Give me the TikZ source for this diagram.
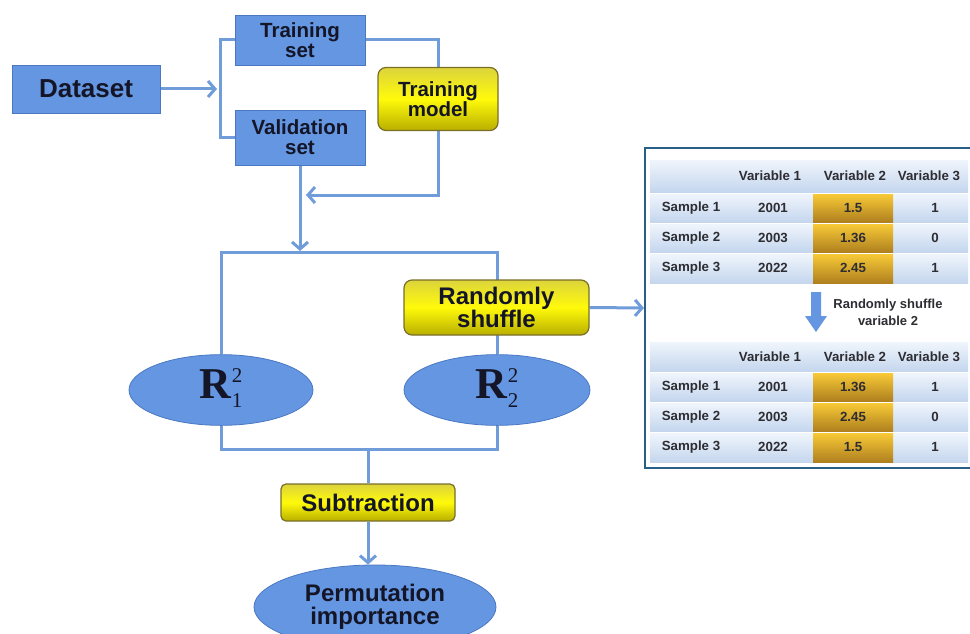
\documentclass[tikz,border=0pt]{standalone}
\usepackage{fontspec}
\setmainfont{Liberation Sans}
\newfontfamily\serifR{Liberation Serif}
\usetikzlibrary{arrows.meta,shapes.geometric,backgrounds,calc}
\definecolor{boxblue}{RGB}{100,150,225}
\definecolor{boxedge}{RGB}{75,120,195}
\definecolor{linec}{RGB}{112,157,218}
\definecolor{txt}{RGB}{20,22,40}
\definecolor{ytop}{RGB}{220,212,60}
\definecolor{ymid}{RGB}{255,250,10}
\definecolor{ybot}{RGB}{185,175,0}
\definecolor{yedge}{RGB}{120,110,40}
\definecolor{tblframe}{RGB}{40,95,135}
\definecolor{rowtop}{RGB}{240,245,252}
\definecolor{rowbot}{RGB}{196,214,238}
\definecolor{goldtop}{RGB}{248,202,55}
\definecolor{goldbot}{RGB}{175,128,30}
\definecolor{tbltxt}{RGB}{45,45,50}
\tikzset{
  bluebox/.style={rectangle, fill=boxblue, draw=boxedge, line width=0.8pt, text=txt, align=center, inner sep=0pt},
  yellowbox/.style={rectangle, rounded corners=8pt, draw=yedge, line width=1.2pt, top color=ytop, bottom color=ybot, middle color=ymid, text=txt, align=center, inner sep=0pt},
  blueell/.style={ellipse, fill=boxblue, draw=boxedge, line width=0.8pt, text=txt, inner sep=0pt, align=center},
  conn/.style={draw=linec, line width=3pt},
  arr/.style={conn, -{Straight Barb[length=7pt,width=16pt]}},
  mainfont/.style={font=\fontsize{#1}{#1}\selectfont\bfseries},
  cell/.style={font=\fontsize{13.3}{14}\selectfont\bfseries, text=tbltxt, inner sep=0pt},
  rowbg/.style={top color=rowtop, bottom color=rowbot, draw=none},
  goldbg/.style={top color=goldtop, bottom color=goldbot, draw=none},
}
\newcommand{\Rsq}[1]{{\serifR\fontsize{44}{44}\selectfont\bfseries R}\kern0.5pt\raisebox{-9pt}{\serifR\fontsize{21}{25}\selectfont\begin{tabular}[b]{@{}l@{}}2\\#1\end{tabular}}}
\begin{document}
\begin{tikzpicture}[x=1pt,y=-1pt]
\useasboundingbox (0,0) rectangle (970,634);
\clip (0,0) rectangle (970,634);

% left flow nodes
\node[bluebox, minimum width=148pt, minimum height=48pt, mainfont=26] (dataset) at (86,89) {Dataset};
\node[bluebox, minimum width=130pt, minimum height=50pt, font=\fontsize{20.5}{20}\selectfont\bfseries] (train) at (300,40) {Training\\set};
\node[bluebox, minimum width=130pt, minimum height=55pt, font=\fontsize{20.5}{20}\selectfont\bfseries] (valid) at (300,137.5) {Validation\\set};
\node[yellowbox, minimum width=120pt, minimum height=63pt, font=\fontsize{20.5}{19}\selectfont\bfseries] (tmodel) at (438,99) {Training\\model};
\node[yellowbox, minimum width=185pt, minimum height=55pt, font=\fontsize{24}{19.5}\selectfont\bfseries] (shuffle) at (496.5,307.5) {Randomly\\shuffle};
\node[blueell, minimum width=184pt, minimum height=66pt] (r1) at (221,390) {\Rsq{1}};
\node[blueell, minimum width=186pt, minimum height=66pt] (r2) at (497,390) {\Rsq{2}};
\node[yellowbox, rounded corners=5pt, minimum width=174pt, minimum height=37pt, mainfont=24] (sub) at (368,502.5) {Subtraction};
\node[blueell, minimum width=242pt, minimum height=84pt, font=\fontsize{24}{23}\selectfont\bfseries] (perm) at (375,607) {Permutation\\importance};

\coordinate (br) at (220,89);
\coordinate (brtip) at (217,89);
\coordinate (j1) at (306,195);
\coordinate (tb) at (300,251);
\coordinate (tbr) at (300,252);
\coordinate (bb) at (368,449);

% table
\node[draw=tblframe, line width=2pt, fill=white, minimum width=330pt, minimum height=320pt, inner sep=0pt] (tbl) at (810,308) {};
\foreach \ya/\yb in {160/192,194/222,224/252,254/283,342/371,373/401,403/431,433/462}{
  \shade[rowbg] (650,\ya) rectangle (968,\yb);
}
\foreach \ya/\yb in {194/222,224/252,254/283,373/401,403/431,433/462}{
  \shade[goldbg] (813,\ya) rectangle (893,\yb);
}
\node[cell] (ha1) at (770,176) {Variable 1};
\node[cell] (ha2) at (855,176) {Variable 2};
\node[cell] (ha3) at (929,176) {Variable 3};
\foreach \yy/\s/\v/\w/\z [count=\i] in {208/Sample 1/2001/1.5/1, 238/Sample 2/2003/1.36/0, 268/Sample 3/2022/2.45/1}{
  \node[cell] (a\i s) at (691,\yy) {\s};
  \node[cell] (a\i v) at (773,\yy) {\v};
  \node[cell] (a\i w) at (853,\yy) {\w};
  \node[cell] (a\i z) at (935,\yy) {\z};
}
\node[cell] (hb1) at (770,357) {Variable 1};
\node[cell] (hb2) at (855,357) {Variable 2};
\node[cell] (hb3) at (929,357) {Variable 3};
\foreach \yy/\s/\v/\w/\z [count=\i] in {387/Sample 1/2001/1.36/1, 417/Sample 2/2003/2.45/0, 447/Sample 3/2022/1.5/1}{
  \node[cell] (b\i s) at (691,\yy) {\s};
  \node[cell] (b\i v) at (773,\yy) {\v};
  \node[cell] (b\i w) at (853,\yy) {\w};
  \node[cell] (b\i z) at (935,\yy) {\z};
}
\fill[boxblue] (811,292) -- (821,292) -- (821,316) -- (827,316) -- (816,332) -- (805,316) -- (811,316) -- cycle;
\node[cell, align=center, font=\fontsize{13}{17}\selectfont\bfseries] (shtxt) at (888,312) {Randomly shuffle\\variable 2};

% connectors
\begin{pgfonlayer}{background}
\draw[arr] (dataset.east) -- (brtip);
\draw[conn] (train.west) -| (br) |- (valid.west);
\draw[conn] (train.east) -| (tmodel.north);
\draw[arr] (tmodel.south) |- (j1);
\draw[arr] (valid.south) -- (tb);
\draw[conn] (r1.north) |- (tbr) -| (r2.north);
\draw[conn] (r1.south) |- (bb) -| (r2.south);
\draw[conn] (bb) -- (sub.north);
\draw[arr] (sub.south) -- (sub.south |- perm.north);
\draw[arr] (shuffle.east) -- (tbl.west);
\end{pgfonlayer}
\end{tikzpicture}
\end{document}
